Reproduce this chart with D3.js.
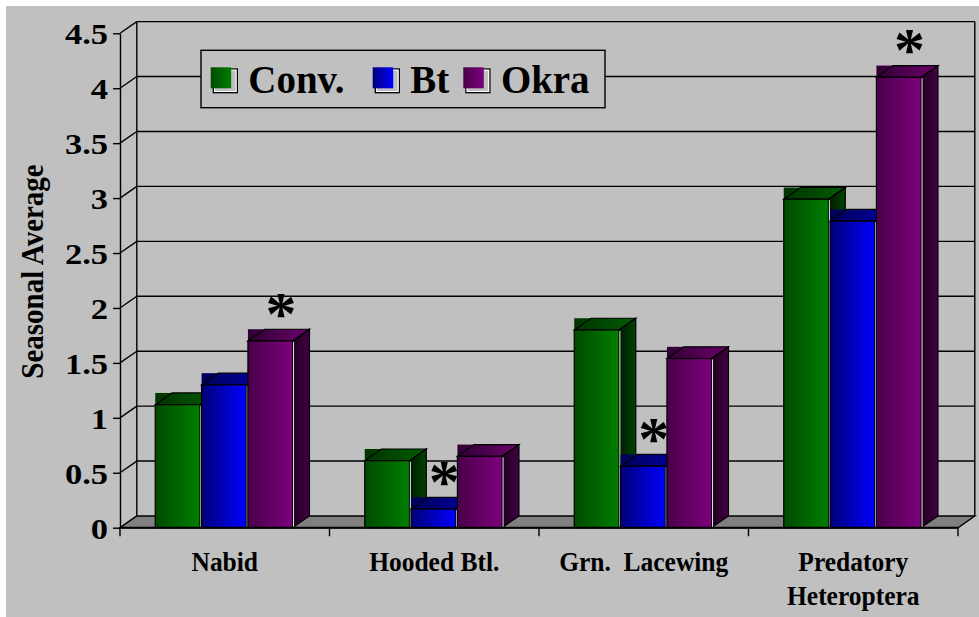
<!DOCTYPE html>
<html>
<head>
<meta charset="utf-8">
<script src="https://cdn.jsdelivr.net/npm/d3@7"></script>
<style>
  html, body { margin: 0; padding: 0; background: #ffffff; }
  svg { display: block; }
  text { font-family: "Liberation Serif", "Times New Roman", serif; font-weight: bold; fill: #000; }
</style>
</head>
<body>
<svg id="chart" width="979" height="617"></svg>
<script>
// ---- data ----
const categories = ["Nabid", "Hooded Btl.", "Grn.  Lacewing", "Predatory\nHeteroptera"];
const series = ["Conv.", "Bt", "Okra"];
const convValues = [1.12, 0.61, 1.80, 2.99];
const btValues   = [1.30, 0.17, 0.56, 2.79];
const okraValues = [1.70, 0.65, 1.54, 4.10];
// significance markers (asterisks) per series
const convSignif = [false, false, false, false];
const btSignif   = [false, true,  true,  false];
const okraSignif = [true,  false, false, true];
const yTickValues = [0, 0.5, 1, 1.5, 2, 2.5, 3, 3.5, 4, 4.5];
const yTickLabels = ["0", "0.5", "1", "1.5", "2", "2.5", "3", "3.5", "4", "4.5"];
const yTitle = "Seasonal Average";

const valuesBySeries = [convValues, btValues, okraValues];
const signifBySeries = [convSignif, btSignif, okraSignif];

// ---- look ----
const palette = {
  "Conv.": { front: ["#004a00", "#007e00"], top: ["#003400", "#005c00"], side: ["#001a00", "#004400"] },
  "Bt":    { front: ["#000078", "#0000ff"], top: ["#000058", "#0000a8"], side: ["#000030", "#000070"] },
  "Okra":  { front: ["#4a004a", "#7c007c"], top: ["#300034", "#6c006c"], side: ["#1e001e", "#440044"] }
};

const svg = d3.select("#chart");
const defs = svg.append("defs");
series.forEach((s, i) => {
  ["front", "top", "side"].forEach(part => {
    const g = defs.append("linearGradient")
      .attr("id", `g${i}-${part}`)
      .attr("x1", 0).attr("y1", 0).attr("x2", 1).attr("y2", 0);
    g.append("stop").attr("offset", "0%").attr("stop-color", palette[s][part][0]);
    g.append("stop").attr("offset", "100%").attr("stop-color", palette[s][part][1]);
  });
});

// chart background
svg.append("rect").attr("x", 6).attr("y", 6).attr("width", 973).attr("height", 611).attr("fill", "#c0c0c0");

// ---- geometry ----
const x0 = 120, x1 = 958, yBase = 527.7, yTop = 33.3;
const DX = 16.8, DY = -11.7; // depth offset of the 3-D box

const x = d3.scaleBand().domain(categories).range([x0, x1])
  .paddingInner(0.3365).paddingOuter(0.16825);
const xs = d3.scaleBand().domain(series).range([0, x.bandwidth()]);
const y = d3.scaleLinear().domain([0, 4.5]).range([yBase, yTop]);

const lineW = 1.4;

// back wall gridlines
const walls = svg.append("g").attr("stroke", "#000").attr("stroke-width", lineW).attr("fill", "none");
walls.selectAll("line.grid").data(yTickValues.filter(v => v > 0)).join("line")
  .attr("x1", x0 + DX).attr("x2", x1 + DX)
  .attr("y1", d => y(d) + DY).attr("y2", d => y(d) + DY);
// side wall slants
walls.selectAll("line.slant").data(yTickValues).join("line")
  .attr("x1", x0).attr("y1", d => y(d))
  .attr("x2", x0 + DX).attr("y2", d => y(d) + DY);
// back wall vertical edges
[x0 + DX, x1 + DX].forEach(xx => {
  walls.append("line").attr("x1", xx).attr("x2", xx)
    .attr("y1", y(4.5) + DY).attr("y2", y(0) + DY);
});

// floor
svg.append("polygon")
  .attr("points", [[x0, yBase], [x1, yBase], [x1 + DX, yBase + DY], [x0 + DX, yBase + DY]].map(p => p.join(",")).join(" "))
  .attr("fill", "#808080").attr("stroke", "#000").attr("stroke-width", lineW);

// ---- legend ----
const legend = svg.append("g");
legend.append("rect").attr("x", 201).attr("y", 50.3).attr("width", 404).attr("height", 57.4)
  .attr("fill", "#c0c0c0").attr("stroke", "#000").attr("stroke-width", lineW);
const legendSwatchX = [210.7, 372.7, 463.3];
series.forEach((s, i) => {
  const sx = legendSwatchX[i];
  legend.append("rect").attr("x", sx + 2.6).attr("y", 69).attr("width", 24).attr("height", 23.7)
    .attr("fill", "none").attr("stroke", "#000").attr("stroke-width", 1.3);
  legend.append("rect").attr("x", sx + 3.8).attr("y", 70.2).attr("width", 21.6).attr("height", 21.3)
    .attr("fill", "none").attr("stroke", "#ffffff").attr("stroke-width", 1);
  legend.append("rect").attr("x", sx).attr("y", 67.3).attr("width", 20.5).attr("height", 21)
    .attr("fill", `url(#g${i}-front)`);
  legend.append("text")
    .attr("transform", `translate(${sx + 37.6},92.7) scale(0.95,1)`)
    .attr("font-size", 41)
    .text(s);
});

// ---- bars ----
const bars = svg.append("g");
categories.forEach((c, ci) => {
  series.forEach((s, si) => {
    const v = valuesBySeries[si][ci];
    const bx = x(c) + xs(s);
    const bw = xs.bandwidth();
    const fw = bw - 1.6;
    const top = y(v);
    const g = bars.append("g");
    // top face bounding block
    g.append("rect").attr("x", bx).attr("y", top + DY).attr("width", fw + DX).attr("height", -DY)
      .attr("fill", `url(#g${si}-top)`);
    // right side face
    g.append("polygon")
      .attr("points", [[bx + fw, top], [bx + fw + DX, top + DY], [bx + fw + DX, yBase + DY], [bx + fw, yBase]].map(p => p.join(",")).join(" "))
      .attr("fill", `url(#g${si}-side)`).attr("stroke", "#000").attr("stroke-width", 1.2);
    // top face outline
    g.append("polygon")
      .attr("points", [[bx, top], [bx + DX, top + DY], [bx + fw + DX, top + DY], [bx + fw, top]].map(p => p.join(",")).join(" "))
      .attr("fill", "none").attr("stroke", "#000").attr("stroke-width", 1.2);
    // front face
    g.append("rect").attr("x", bx).attr("y", top).attr("width", fw).attr("height", yBase - top)
      .attr("fill", `url(#g${si}-front)`).attr("stroke", "#000").attr("stroke-width", 1.2);
    // light edge on the right of the front face
    g.append("line").attr("x1", bx + fw + 0.9).attr("x2", bx + fw + 0.9)
      .attr("y1", top + 1).attr("y2", yBase)
      .attr("stroke", "#e6e6e6").attr("stroke-width", 1);
  });
});

// significance asterisks
const marks = [];
categories.forEach((c, ci) => series.forEach((s, si) => {
  if (signifBySeries[si][ci]) marks.push({ c, s, v: valuesBySeries[si][ci] });
}));
svg.append("g").selectAll("text").data(marks).join("text")
  .attr("x", d => x(d.c) + xs(d.s) + xs.bandwidth() / 2 + 10)
  .attr("y", d => y(d.v) + DY + 4.5)
  .attr("text-anchor", "middle")
  .attr("font-size", 62)
  .text("*");

// ---- axes ----
const yAxis = svg.append("g").attr("transform", `translate(${x0},0)`)
  .call(d3.axisLeft(y).tickValues(yTickValues).tickSize(7).tickSizeOuter(0)
    .tickFormat((d, i) => yTickLabels[i]));
yAxis.select(".domain").attr("stroke-width", lineW);
yAxis.selectAll(".tick line").attr("stroke-width", lineW);
yAxis.selectAll(".tick text")
  .attr("x", null).attr("dy", null)
  .attr("font-family", null)
  .attr("font-size", 30)
  .attr("transform", "translate(-12,10.5) scale(1.15,1)");

// category axis: baseline with ticks at band boundaries
const xAxis = svg.append("g");
xAxis.append("line").attr("x1", x0).attr("x2", x1).attr("y1", yBase).attr("y2", yBase)
  .attr("stroke", "#000").attr("stroke-width", 2);
const boundaries = categories.map(c => x(c) - x.step() * x.paddingInner() / 2).concat([x1]);
xAxis.selectAll("line.tick").data(boundaries).join("line")
  .attr("x1", d => d).attr("x2", d => d).attr("y1", yBase).attr("y2", yBase + 8.5)
  .attr("stroke", "#000").attr("stroke-width", lineW);
categories.forEach(c => {
  const cx = x(c) + x.bandwidth() / 2;
  c.split("\n").forEach((line, li) => {
    xAxis.append("text")
      .attr("transform", `translate(${cx},${570.5 + li * 34}) scale(0.91,1)`)
      .attr("text-anchor", "middle")
      .attr("font-size", 28)
      .style("white-space", "pre")
      .text(line);
  });
});

// y title
svg.append("text")
  .attr("transform", "translate(42.5,271.5) rotate(-90) scale(1,1.1)")
  .attr("text-anchor", "middle")
  .attr("font-size", 29)
  .text(yTitle);
</script>
</body>
</html>
